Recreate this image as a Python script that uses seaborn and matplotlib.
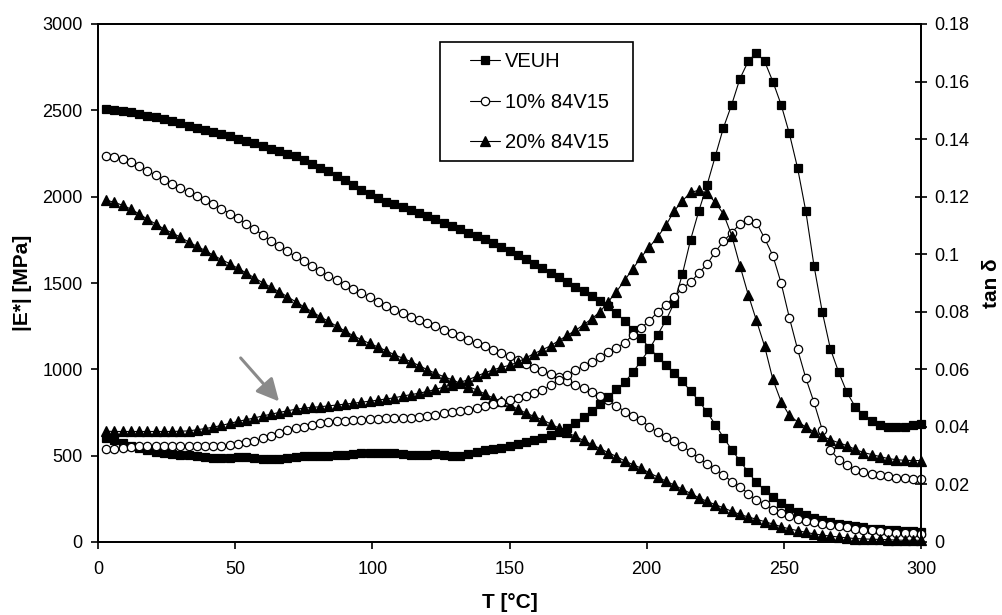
import matplotlib
matplotlib.use('Agg')
import matplotlib.pyplot as plt
import seaborn as sns
from matplotlib.patches import Rectangle

# ---------------- data ----------------
T = list(range(3, 301, 3))

veuh_E = [2505, 2500, 2495, 2488, 2480, 2470, 2460, 2448, 2436, 2424,
          2412, 2400, 2388, 2376, 2364, 2350, 2336, 2322, 2308, 2292,
          2276, 2262, 2250, 2234, 2214, 2190, 2168, 2146, 2122, 2096,
          2070, 2040, 2014, 1990, 1972, 1956, 1938, 1921, 1904, 1887,
          1868, 1849, 1830, 1811, 1792, 1773, 1753, 1733, 1710, 1686,
          1661, 1637, 1611, 1585, 1558, 1532, 1505, 1478, 1451, 1426,
          1398, 1364, 1325, 1280, 1230, 1180, 1125, 1072, 1025, 980,
          930, 875, 818, 752, 680, 605, 535, 470, 405, 345,
          300, 260, 225, 197, 175, 156, 140, 128, 117, 107,
          98, 90, 84, 78, 74, 70, 67, 64, 62, 60]

p10_E = [2237, 2230, 2220, 2200, 2175, 2151, 2124, 2099, 2076, 2051,
         2027, 2004, 1981, 1960, 1931, 1902, 1874, 1844, 1811, 1779,
         1746, 1715, 1683, 1654, 1625, 1597, 1568, 1543, 1516, 1491,
         1466, 1443, 1420, 1392, 1367, 1344, 1324, 1305, 1286, 1268,
         1249, 1229, 1210, 1191, 1172, 1153, 1134, 1114, 1095, 1075,
         1052, 1028, 1008, 992, 975, 955, 935, 910, 890, 867,
         847, 820, 790, 755, 728, 705, 668, 635, 608, 586,
         556, 523, 485, 452, 422, 389, 350, 321, 280, 242,
         222, 188, 168, 149, 135, 124, 116, 105, 97, 92,
         84, 77, 70, 67, 64, 60, 55, 51, 50, 49]

p20_E = [1980, 1967, 1950, 1928, 1900, 1870, 1842, 1814, 1790, 1766,
         1738, 1713, 1689, 1661, 1636, 1612, 1585, 1559, 1530, 1502,
         1476, 1450, 1421, 1392, 1363, 1334, 1305, 1278, 1250, 1222,
         1195, 1172, 1150, 1130, 1108, 1085, 1065, 1045, 1022, 998,
         977, 958, 940, 920, 900, 881, 858, 834, 815, 795,
         770, 747, 727, 708, 684, 660, 635, 612, 588, 565,
         541, 518, 495, 470, 448, 428, 400, 377, 353, 330,
         305, 282, 256, 236, 216, 198, 178, 160, 145, 132,
         118, 104, 89, 76, 66, 56, 47, 40, 34, 29,
         24, 20, 18, 16, 15, 13, 11, 10, 10, 10]

veuh_tan = [0.0360, 0.0355, 0.0345, 0.0335, 0.0325, 0.0318, 0.0313, 0.0310, 0.0307, 0.0303,
            0.0302, 0.0300, 0.0295, 0.0292, 0.0291, 0.0292, 0.0294, 0.0294, 0.0292, 0.0290,
            0.0289, 0.0289, 0.0291, 0.0295, 0.0298, 0.0300, 0.0300, 0.0300, 0.0301, 0.0303,
            0.0307, 0.0309, 0.0310, 0.0310, 0.0310, 0.0308, 0.0305, 0.0302, 0.0302, 0.0304,
            0.0305, 0.0302, 0.0300, 0.0300, 0.0305, 0.0312, 0.0318, 0.0322, 0.0328, 0.0334,
            0.0341, 0.0348, 0.0355, 0.0362, 0.0372, 0.0383, 0.0396, 0.0415, 0.0435, 0.0455,
            0.0480, 0.0505, 0.0530, 0.0555, 0.0590, 0.0630, 0.0670, 0.0720, 0.0770, 0.0830,
            0.0930, 0.1050, 0.1150, 0.1240, 0.1340, 0.1440, 0.1520, 0.1610, 0.1670, 0.1700,
            0.1670, 0.1600, 0.1520, 0.1420, 0.1300, 0.1150, 0.0960, 0.0800, 0.0670, 0.0590,
            0.0520, 0.0470, 0.0440, 0.0420, 0.0405, 0.0400, 0.0400, 0.0400, 0.0405, 0.0410]

p10_tan = [0.0324, 0.0324, 0.0326, 0.0330, 0.0332, 0.0332, 0.0332, 0.0332, 0.0332, 0.0332,
           0.0332, 0.0332, 0.0332, 0.0333, 0.0334, 0.0337, 0.0341, 0.0346, 0.0351, 0.0360,
           0.0370, 0.0380, 0.0389, 0.0395, 0.0399, 0.0407, 0.0412, 0.0418, 0.0421, 0.0422,
           0.0423, 0.0425, 0.0427, 0.0429, 0.0430, 0.0430, 0.0431, 0.0432, 0.0435, 0.0438,
           0.0443, 0.0448, 0.0452, 0.0456, 0.0460, 0.0464, 0.0472, 0.0480, 0.0486, 0.0492,
           0.0500, 0.0508, 0.0517, 0.0527, 0.0545, 0.0563, 0.0580, 0.0597, 0.0611, 0.0625,
           0.0643, 0.0660, 0.0675, 0.0692, 0.0720, 0.0745, 0.0768, 0.0800, 0.0825, 0.0850,
           0.0883, 0.0902, 0.0935, 0.0965, 0.1008, 0.1045, 0.1075, 0.1105, 0.1120, 0.1110,
           0.1055, 0.0995, 0.0900, 0.0780, 0.0670, 0.0570, 0.0485, 0.0390, 0.0320, 0.0286,
           0.0266, 0.0251, 0.0242, 0.0238, 0.0233, 0.0228, 0.0224, 0.0222, 0.0220, 0.0219]

p20_tan = [0.0385, 0.0384, 0.0384, 0.0384, 0.0384, 0.0384, 0.0384, 0.0384, 0.0384, 0.0385,
           0.0386, 0.0390, 0.0394, 0.0399, 0.0405, 0.0412, 0.0419, 0.0425, 0.0431, 0.0438,
           0.0444, 0.0450, 0.0456, 0.0461, 0.0465, 0.0468, 0.0470, 0.0473, 0.0476, 0.0479,
           0.0482, 0.0486, 0.0489, 0.0493, 0.0497, 0.0501, 0.0507, 0.0512, 0.0517, 0.0523,
           0.0530, 0.0538, 0.0546, 0.0555, 0.0564, 0.0576, 0.0588, 0.0598, 0.0607, 0.0614,
           0.0625, 0.0640, 0.0655, 0.0668, 0.0682, 0.0700, 0.0718, 0.0735, 0.0755, 0.0776,
           0.0800, 0.0835, 0.0870, 0.0910, 0.0950, 0.0990, 0.1025, 0.1060, 0.1100, 0.1150,
           0.1185, 0.1215, 0.1222, 0.1212, 0.1180, 0.1140, 0.1065, 0.0960, 0.0860, 0.0770,
           0.0680, 0.0565, 0.0488, 0.0440, 0.0418, 0.0400, 0.0383, 0.0368, 0.0355, 0.0345,
           0.0335, 0.0322, 0.0311, 0.0304, 0.0297, 0.0290, 0.0286, 0.0284, 0.0283, 0.0283]

series_labels = ["VEUH", "10% 84V15", "20% 84V15"]
x_ticks = [0, 50, 100, 150, 200, 250, 300]
e_ticks = [0, 500, 1000, 1500, 2000, 2500, 3000]
tan_ticks = [0, 0.02, 0.04, 0.06, 0.08, 0.1, 0.12, 0.14, 0.16, 0.18]
tan_tick_labels = ["0", "0.02", "0.04", "0.06", "0.08", "0.1", "0.12", "0.14", "0.16", "0.18"]

# ---------------- style ----------------
sns.set_theme(style="ticks")
plt.rcParams['font.family'] = ['Liberation Sans', 'DejaVu Sans']
plt.rcParams['axes.edgecolor'] = 'black'
plt.rcParams['axes.linewidth'] = 1.3

fig = plt.figure(figsize=(10.03, 6.15), dpi=100)
ax = fig.add_axes([98 / 1003, 1 - 542 / 615, 823 / 1003, 518 / 615])
ax2 = ax.twinx()

styles = [
    dict(marker='s', markersize=6.3, markerfacecolor='black'),
    dict(marker='o', markersize=6.0, markerfacecolor='white'),
    dict(marker='^', markersize=7.0, markerfacecolor='black'),
]
common = dict(color='black', linewidth=0.8, markeredgecolor='black',
              markeredgewidth=0.9, errorbar=None, clip_on=False)

for yv, st in zip([veuh_E, p10_E, p20_E], styles):
    sns.lineplot(x=T, y=yv, ax=ax, legend=False, **st, **common)
for yv, st in zip([veuh_tan, p10_tan, p20_tan], styles):
    sns.lineplot(x=T, y=yv, ax=ax2, legend=False, **st, **common)

ax.set_xlim(0, 300)
ax.set_ylim(0, 3000)
ax2.set_ylim(0, 0.18)
ax.set_xticks(x_ticks)
ax.set_xticklabels([str(v) for v in x_ticks])
ax.set_yticks(e_ticks)
ax.set_yticklabels([str(v) for v in e_ticks])
ax2.set_yticks(tan_ticks)
ax2.set_yticklabels(tan_tick_labels)

ax.tick_params(axis='x', direction='out', length=5, width=1.2, pad=9,
               labelsize=13, colors='black')
ax.tick_params(axis='y', direction='out', length=5, width=1.2, pad=6,
               labelsize=13, colors='black')
ax2.tick_params(axis='y', direction='inout', length=9, width=1.2, pad=5,
                labelsize=13, colors='black')
for a in (ax, ax2):
    for s in a.spines.values():
        s.set_color('black')
        s.set_linewidth(1.3)

ax.set_xlabel("T [°C]", fontsize=15, fontweight='bold', color='black')
ax.xaxis.set_label_coords(0.5, -0.098)
ax.set_ylabel("|E*| [MPa]", fontsize=15, fontweight='bold', color='black')
ax.yaxis.set_label_coords(-0.080, 0.5)
ax2.set_ylabel("tan δ", fontsize=15, fontweight='bold', color='black')
ax2.yaxis.set_label_coords(1.074, 0.5)

# legend
handles = ax.get_lines()[:3]
leg = ax2.legend(handles, series_labels, loc='upper left',
                 bbox_to_anchor=((470 - 98) / 823, (542 - 52) / 518),
                 frameon=False, fontsize=14.5, handlelength=1.5,
                 handletextpad=0.25, labelspacing=1.08, borderpad=0,
                 borderaxespad=0)
for t in leg.get_texts():
    t.set_color('black')
ax2.add_patch(Rectangle(((440 - 98) / 823, (542 - 161) / 518),
                        (633 - 440) / 823, (161 - 42) / 518,
                        transform=ax2.transAxes, fill=True, facecolor='white',
                        edgecolor='black', linewidth=1.2, zorder=4))
leg.set_zorder(5)

# arrow
ax.annotate("", xy=(66, 814), xytext=(52, 1066),
            arrowprops=dict(arrowstyle='-|>,head_length=0.9,head_width=0.45',
                            color='#8a8a8a', lw=2.2, mutation_scale=15,
                            shrinkA=0, shrinkB=0))

fig.savefig("out.png", dpi=100)
